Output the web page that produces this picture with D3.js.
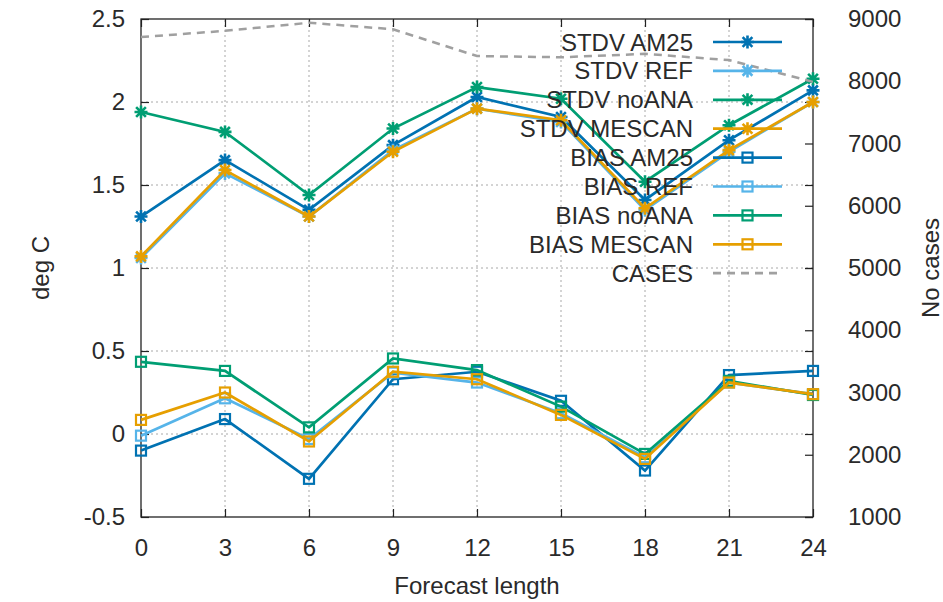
<!DOCTYPE html>
<html>
<head>
<meta charset="utf-8">
<script src="https://cdn.jsdelivr.net/npm/d3@7"></script>
<style>
  body { margin: 0; background: #fff; }
  text { font-family: "Liberation Sans", Arial, sans-serif; fill: #2a2a2a; }
</style>
</head>
<body>
<div id="chart"></div>
<script>
// forecast hours on x
const hours = [0, 3, 6, 9, 12, 15, 18, 21, 24];

// standard deviation (deg C)
const stdvAM25   = [1.31, 1.65, 1.35, 1.74, 2.03, 1.91, 1.41, 1.77, 2.07];
const stdvREF    = [1.06, 1.57, 1.31, 1.71, 1.96, 1.88, 1.35, 1.70, 2.00];
const stdvNoANA  = [1.94, 1.82, 1.44, 1.84, 2.09, 2.02, 1.52, 1.86, 2.14];
const stdvMESCAN = [1.07, 1.59, 1.31, 1.70, 1.96, 1.89, 1.36, 1.71, 2.00];

// bias (deg C)
const biasAM25   = [-0.10, 0.09, -0.27, 0.33, 0.375, 0.20, -0.22, 0.355, 0.38];
const biasREF    = [-0.01, 0.215, -0.03, 0.37, 0.31, 0.125, -0.14, 0.31, 0.24];
const biasNoANA  = [0.435, 0.38, 0.04, 0.455, 0.385, 0.165, -0.12, 0.32, 0.235];
const biasMESCAN = [0.085, 0.25, -0.045, 0.375, 0.33, 0.115, -0.15, 0.31, 0.24];

// number of cases (right axis)
const cases = [8710, 8810, 8940, 8835, 8405, 8385, 8440, 8340, 7990];

const yTicks = [-0.5, 0, 0.5, 1, 1.5, 2, 2.5];
const y2Ticks = [1000, 2000, 3000, 4000, 5000, 6000, 7000, 8000, 9000];

const series = [
  { name: "STDV AM25",   values: stdvAM25,   color: "#0072b2", mark: "star" },
  { name: "STDV REF",    values: stdvREF,    color: "#56b4e9", mark: "star" },
  { name: "STDV noANA",  values: stdvNoANA,  color: "#009e73", mark: "star" },
  { name: "STDV MESCAN", values: stdvMESCAN, color: "#e69f00", mark: "star" },
  { name: "BIAS AM25",   values: biasAM25,   color: "#0072b2", mark: "square" },
  { name: "BIAS REF",    values: biasREF,    color: "#56b4e9", mark: "square" },
  { name: "BIAS noANA",  values: biasNoANA,  color: "#009e73", mark: "square" },
  { name: "BIAS MESCAN", values: biasMESCAN, color: "#e69f00", mark: "square" }
];

const width = 943, height = 602;
const margin = { left: 141, right: 130, top: 19, bottom: 85 };
const fontSize = 24;

const svg = d3.select("#chart").append("svg")
  .attr("width", width)
  .attr("height", height);

const x = d3.scaleLinear().domain([0, 24]).range([margin.left, width - margin.right]);
const y = d3.scaleLinear().domain([-0.5, 2.5]).range([height - margin.bottom, margin.top]);
const y2 = d3.scaleLinear().domain([1000, 9000]).range([height - margin.bottom, margin.top]);

const x0 = x.range()[0], x1 = x.range()[1];
const yb = y.range()[0], yt = y.range()[1];

// grid
const grid = svg.append("g")
  .attr("stroke", "#a8a8a8")
  .attr("stroke-width", 1)
  .attr("stroke-dasharray", "2,3");
grid.selectAll(".gx").data(hours.slice(1, -1)).join("line")
  .attr("x1", d => x(d)).attr("x2", d => x(d))
  .attr("y1", yb).attr("y2", yt);
grid.selectAll(".gy").data(yTicks.slice(1, -1)).join("line")
  .attr("y1", d => y(d)).attr("y2", d => y(d))
  .attr("x1", x0).attr("x2", x1);

// axes (gnuplot style: ticks inward, mirrored)
const tick = -8;
svg.append("g").attr("transform", `translate(0,${yb})`)
  .call(d3.axisBottom(x).tickValues(hours).tickSizeInner(tick).tickSizeOuter(0).tickPadding(22))
  .call(styleAxis);
svg.append("g").attr("transform", `translate(0,${yt})`)
  .call(d3.axisTop(x).tickValues(hours).tickSizeInner(tick).tickSizeOuter(0).tickFormat(""))
  .call(styleAxis);
svg.append("g").attr("transform", `translate(${x0},0)`)
  .call(d3.axisLeft(y).tickValues(yTicks).tickSizeInner(tick).tickSizeOuter(0).tickPadding(16)
    .tickFormat(d => String(d)))
  .call(styleAxis);
svg.append("g").attr("transform", `translate(${x1},0)`)
  .call(d3.axisRight(y).tickValues(yTicks).tickSizeInner(tick).tickSizeOuter(0).tickFormat(""))
  .call(styleAxis);
svg.append("g").attr("transform", `translate(${x1},0)`)
  .call(d3.axisRight(y2).tickValues(y2Ticks).tickSizeInner(tick).tickSizeOuter(0).tickPadding(35)
    .tickFormat(d3.format("d")))
  .call(styleAxis);

function styleAxis(g) {
  g.select(".domain").remove();
  g.selectAll(".tick line").attr("stroke", "#222").attr("stroke-width", 1.2);
  g.selectAll(".tick text").attr("font-size", fontSize).attr("fill", "#2a2a2a")
    .attr("font-family", "Liberation Sans, Arial, sans-serif");
}

svg.append("rect")
  .attr("x", x0).attr("y", yt)
  .attr("width", x1 - x0).attr("height", yb - yt)
  .attr("fill", "none").attr("stroke", "#222").attr("stroke-width", 1.3);

// axis titles
svg.append("text")
  .attr("transform", `translate(40,${(yt + yb) / 2}) rotate(-90)`)
  .attr("text-anchor", "middle").attr("dominant-baseline", "central")
  .attr("font-size", fontSize).text("deg C");
svg.append("text")
  .attr("transform", `translate(930,${(yt + yb) / 2}) rotate(-90)`)
  .attr("text-anchor", "middle").attr("dominant-baseline", "central")
  .attr("font-size", fontSize).text("No cases");
svg.append("text")
  .attr("x", (x0 + x1) / 2).attr("y", 585)
  .attr("text-anchor", "middle").attr("dominant-baseline", "central")
  .attr("font-size", fontSize).text("Forecast length");

// markers
function drawMark(g, kind, color) {
  if (kind === "star") {
    const r = 6.5, d = r * 0.75;
    g.append("path")
      .attr("d", `M${-r},0H${r}M0,${-r}V${r}M${-d},${-d}L${d},${d}M${-d},${d}L${d},${-d}`)
      .attr("stroke", color).attr("stroke-width", 2.6).attr("fill", "none");
  } else {
    g.append("rect")
      .attr("x", -5).attr("y", -5).attr("width", 10).attr("height", 10)
      .attr("stroke", color).attr("stroke-width", 2.2).attr("fill", "none");
  }
}

const line = d3.line().x((d, i) => x(hours[i])).y(d => y(d));

const plots = svg.append("g");
series.forEach(s => {
  plots.append("path")
    .attr("d", line(s.values))
    .attr("fill", "none").attr("stroke", s.color).attr("stroke-width", 2.7)
    .attr("stroke-linejoin", "miter");
  s.values.forEach((v, i) => {
    const m = plots.append("g").attr("transform", `translate(${x(hours[i])},${y(v)})`);
    drawMark(m, s.mark, s.color);
  });
});

const casesLine = d3.line().x((d, i) => x(hours[i])).y(d => y2(d));
plots.append("path")
  .attr("d", casesLine(cases))
  .attr("fill", "none").attr("stroke", "#a0a0a0").attr("stroke-width", 2.5)
  .attr("stroke-dasharray", "8,6");

// key
const keyX = 693, keyY = 42, keyStep = 28.9;
const keyItems = series.concat([{ name: "CASES", color: "#a0a0a0", mark: null, dash: "8,6" }]);
keyItems.forEach((s, i) => {
  const ky = keyY + i * keyStep;
  svg.append("text")
    .attr("x", keyX).attr("y", ky)
    .attr("text-anchor", "end").attr("dominant-baseline", "central")
    .attr("font-size", fontSize).text(s.name);
  svg.append("line")
    .attr("x1", 713).attr("x2", 782).attr("y1", ky).attr("y2", ky)
    .attr("stroke", s.color).attr("stroke-width", 2.7)
    .attr("stroke-dasharray", s.dash || null);
  if (s.mark) {
    const m = svg.append("g").attr("transform", `translate(747.5,${ky})`);
    drawMark(m, s.mark, s.color);
  }
});
</script>
</body>
</html>
